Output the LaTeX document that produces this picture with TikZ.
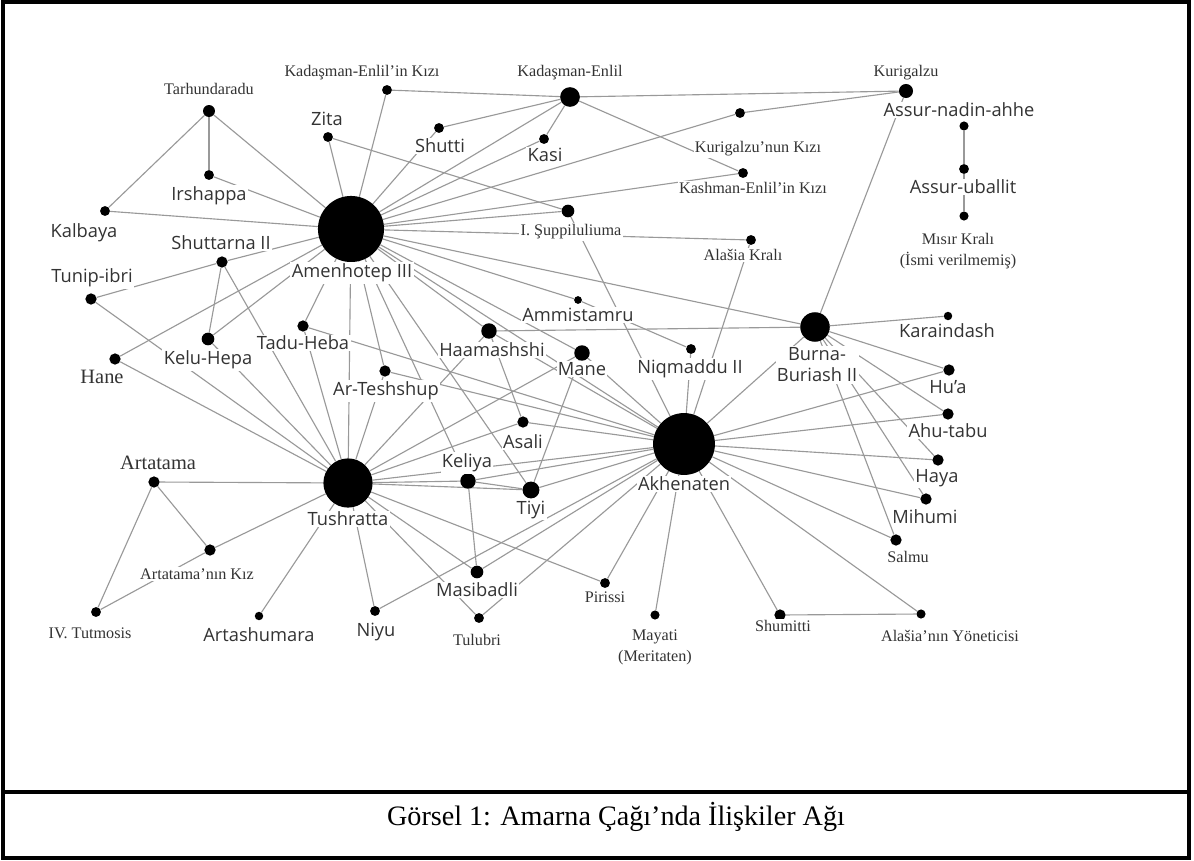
\documentclass[tikz,border=0pt]{standalone}
\usepackage{fontspec}
\setmainfont{Liberation Serif}
\setsansfont{Open Sans}
\usetikzlibrary{backgrounds}
\pgfdeclarelayer{edges}
\pgfsetlayers{background,edges,main}

\tikzset{
  pers/.style={circle, fill=black, inner sep=0pt, minimum size=#1},
  pers/.default=7pt,
  tag/.style={fill=white, inner sep=1pt, text=black!80, align=center,
    font=\sffamily\fontsize{13}{15}\selectfont},
  stag/.style={tag, font=\rmfamily\fontsize{11.5}{15}\selectfont},
  link/.style={draw=black!40, line width=0.8pt},
  frame/.style={line width=2.8pt}
}

\begin{document}
\begin{tikzpicture}[x=0.025cm, y=-0.025cm]
  \useasboundingbox (0,0) rectangle (1194,860);
  \begin{pgfonlayer}{background}
    \fill[white] (0,0) rectangle (1194,860);
  \end{pgfonlayer}

  % the great courts
  \node[pers=47pt] (amen) at (351,229) {};
  \node[pers=44pt] (akh) at (684,444) {};
  \node[pers=35pt] (tush) at (348,483) {};
  \node[pers=21pt] (burna) at (815,327) {};
  \node[pers=14pt] (kadas) at (570,97) {};
  \node[pers=10pt] (kuri) at (906,91) {};

  % people round them
  \node[pers=8.5pt] (tarh) at (209,111) {};
  \node[pers] (irsh) at (209,175) {};
  \node[pers] (kalb) at (105,211) {};
  \node[pers=8pt] (shut) at (222,262) {};
  \node[pers=8pt] (tunip) at (91,299) {};
  \node[pers=9pt] (kelu) at (208,339) {};
  \node[pers=8pt] (hane) at (115,359) {};
  \node[pers=8pt] (tadu) at (303,326) {};
  \node[pers] (zita) at (328,137) {};
  \node[pers] (kadasK) at (387,90) {};
  \node[pers] (shutti) at (439,128) {};
  \node[pers] (kasi) at (544,139) {};
  \node[pers] (kuriK) at (740,113) {};
  \node[pers] (kashK) at (743,173) {};
  \node[pers=9pt] (supp) at (568,211) {};
  \node[pers] (alasK) at (751,240) {};
  \node[pers=5.5pt] (ammi) at (578,300) {};
  \node[pers=11pt] (haam) at (489,331) {};
  \node[pers=11pt] (mane) at (582,353) {};
  \node[pers] (niqm) at (691,349) {};
  \node[pers=8pt] (artesh) at (385,371) {};
  \node[pers=8pt] (asali) at (523,422) {};
  \node[pers=11pt] (keliya) at (468,481) {};
  \node[pers=12pt] (tiyi) at (531,490) {};
  \node[pers=9pt] (masib) at (477,572) {};
  \node[pers] (tulub) at (479,618) {};
  \node[pers] (piris) at (605,583) {};
  \node[pers=6.5pt] (mayati) at (655,615) {};
  \node[pers=8pt] (shumi) at (780,615) {};
  \node[pers=6.5pt] (alasY) at (921,614) {};
  \node[pers=6pt] (karai) at (948,316) {};
  \node[pers=8pt] (hua) at (949,370) {};
  \node[pers=8pt] (ahu) at (948,414) {};
  \node[pers=8pt] (haya) at (938,460) {};
  \node[pers=8pt] (mihumi) at (926,499) {};
  \node[pers=8pt] (salmu) at (896,540) {};
  \node[pers=6.5pt] (assurN) at (964,126) {};
  \node[pers] (assurU) at (964,169) {};
  \node[pers=6.5pt] (misir) at (964,216) {};
  \node[pers=8pt] (artat) at (154,482) {};
  \node[pers=8pt] (artatK) at (210,550) {};
  \node[pers] (tutm) at (96,612) {};
  \node[pers=6pt] (artash) at (259,616) {};
  \node[pers] (niyu) at (375,611) {};

  % names
  \node[tag] (amenL) at (352,273) {Amenhotep III};
  \node[tag] (akhL) at (684,484) {Akhenaten};
  \node[tag] (tushL) at (348,519) {Tushratta};
  \node[tag] (burnaL) at (817,365) {Burna-\\Buriash II};
  \node[stag] (kadasL) at (570,73) {Kadaşman-Enlil};
  \node[stag] (kuriL) at (906,73) {Kurigalzu};
  \node[stag] (tarhL) at (209,89) {Tarhundaradu};
  \node[tag] (irshL) at (209,196) {Irshappa};
  \node[tag] (kalbL) at (84,233) {Kalbaya};
  \node[tag] (shutL) at (221,243) {Shuttarna II};
  \node[tag] (tunipL) at (92,278) {Tunip-ibri};
  \node[tag] (keluL) at (208,360) {Kelu-Hepa};
  \node[stag, font=\rmfamily\fontsize{14.5}{16}\selectfont] (haneL) at (102,377) {Hane};
  \node[tag] (taduL) at (303,343) {Tadu-Heba};
  \node[tag] (zitaL) at (327,119) {Zita};
  \node[stag] (kadasKL) at (362,73) {Kadaşman-Enlil'in Kızı};
  \node[tag] (shuttiL) at (440,146) {Shutti};
  \node[tag] (kasiL) at (545,155) {Kasi};
  \node[stag] (kuriKL) at (758,149) {Kurigalzu'nun Kızı};
  \node[stag] (kashKL) at (753,188) {Kashman-Enlil'in Kızı};
  \node[stag] (suppL) at (571,232) {I. Şuppiluliuma};
  \node[stag] (alasKL) at (743,255) {Alašia Kralı};
  \node[tag] (ammiL) at (578,315) {Ammistamru};
  \node[tag] (haamL) at (492,350) {Haamashshi};
  \node[tag] (maneL) at (582,369) {Mane};
  \node[tag] (niqmL) at (690,369) {Niqmaddu II};
  \node[tag] (arteshL) at (386,391) {Ar-Teshshup};
  \node[tag] (asaliL) at (523,442) {Asali};
  \node[tag] (keliyaL) at (467,463) {Keliya};
  \node[tag] (tiyiL) at (531,510) {Tiyi};
  \node[tag] (masibL) at (477,590) {Masibadli};
  \node[stag] (tulubL) at (477,640) {Tulubri};
  \node[stag] (pirisL) at (605,597) {Pirissi};
  \node[stag] (mayatiL) at (655,647) {Mayati\\(Meritaten)};
  \node[stag] (shumiL) at (783,626) {Shumitti};
  \node[stag] (alasYL) at (950,636) {Alašia'nın Yöneticisi};
  \node[tag] (karaiL) at (947,331) {Karaindash};
  \node[tag] (huaL) at (948,387) {Hu’a};
  \node[tag] (ahuL) at (948,431) {Ahu-tabu};
  \node[tag] (hayaL) at (937,478) {Haya};
  \node[tag] (mihumiL) at (925,517) {Mihumi};
  \node[stag] (salmuL) at (908,557) {Salmu};
  \node[tag] (assurNL) at (959,110) {Assur-nadin-ahhe};
  \node[tag] (assurUL) at (963,187) {Assur-uballit};
  \node[stag] (misirL) at (958,251) {Mısır Kralı\\(İsmi verilmemiş)};
  \node[stag, font=\rmfamily\fontsize{14.5}{16}\selectfont] (artatL) at (158,463) {Artatama};
  \node[stag] (artatKL) at (197,574) {Artatama'nın Kız};
  \node[stag] (tutmL) at (90,633) {IV. Tutmosis};
  \node[tag] (artashL) at (259,635) {Artashumara};
  \node[tag] (niyuL) at (376,632) {Niyu};

  % ties between them
  \begin{pgfonlayer}{edges}
    \foreach \n in {tarh,irsh,kalb,shut,hane,kelu,tadu,zita,kadasK,shutti,kasi,kadas,
      kuriK,kashK,supp,alasK,burna,ammi,haam,mane,tiyi,keliya,artesh,tush,akh}
      \draw[link] (amen) -- (\n);
    \foreach \n in {artat,artatK,artash,niyu,masib,tulub,piris,keliya,tiyi,akh,hane,
      tunip,shut,kelu,tadu,artesh,haam,mane,asali}
      \draw[link] (tush) -- (\n);
    \foreach \n in {burna,hua,ahu,haya,mihumi,salmu,alasY,shumi,mayati,piris,tulub,
      masib,niyu,tiyi,keliya,asali,mane,haam,artesh,tadu,niqm,supp,alasK}
      \draw[link] (akh) -- (\n);
    \foreach \n in {karai,hua,ahu,haya,mihumi,salmu,kuri,haam}
      \draw[link] (burna) -- (\n);
    \foreach \n in {kadasK,kuri,shutti,kasi,kashK}
      \draw[link] (kadas) -- (\n);
    \draw[link] (kuriK) -- (kuri);
    \draw[link] (zita) -- (supp);
    \draw[link] (ammi) -- (niqm);
    \draw[link] (tarh) -- (kalb);
    \draw[link] (tarh) -- (irsh);
    \draw[link] (shut) -- (tunip);
    \draw[link] (shut) -- (kelu);
    \draw[link] (haam) -- (asali);
    \draw[link] (mane) -- (tiyi);
    \draw[link] (keliya) -- (tiyi);
    \draw[link] (keliya) -- (masib);
    \draw[link] (shumi) -- (alasY);
    \draw[link] (assurN) -- (assurU) -- (misir);
    \draw[link] (artat) -- (artatK);
    \draw[link] (artat) -- (tutm);
    \draw[link] (tutm) -- (artatK);
  \end{pgfonlayer}

  % frame and caption
  \draw[frame] (3,2) rectangle (1189,858);
  \draw[frame] (3,792) -- (1189,792);
  \node[font=\rmfamily\fontsize{20}{22}\selectfont] (caption) at (616,817)
    {Görsel 1: Amarna Çağı’nda İlişkiler Ağı};
\end{tikzpicture}
\end{document}
